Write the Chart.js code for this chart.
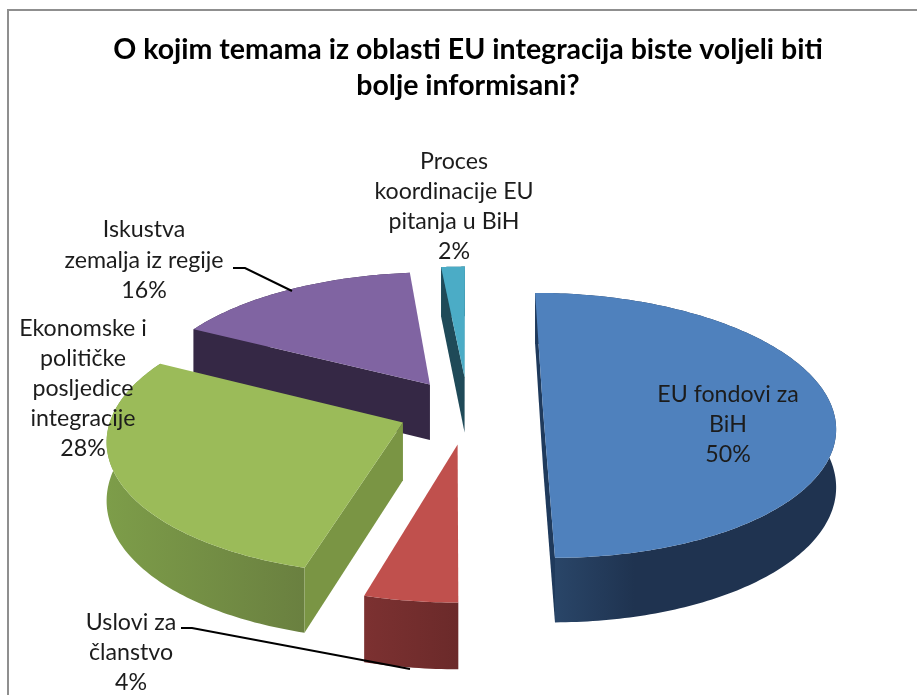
<!DOCTYPE html>
<html><head><meta charset="utf-8">
<script src="https://cdn.jsdelivr.net/npm/chart.js@4"></script>
<style>
html,body{margin:0;padding:0;background:#fff;width:917px;height:695px;overflow:hidden}
#frame{position:absolute;left:7px;top:9px;width:910px;height:686px;border-left:2px solid #8f8f8f;border-top:2px solid #8f8f8f;box-sizing:border-box}
#c{position:absolute;left:0;top:0}
</style></head><body>
<div id="frame"></div>
<canvas id="c" width="917" height="695"></canvas>
<script>
const categories = ['EU fondovi za BiH','Uslovi za članstvo','Ekonomske i političke posljedice integracije','Iskustva zemalja iz regije','Proces koordinacije EU pitanja u BiH'];
const values = [49.9,4.49,28.31,15.8,1.5];
const titleLines = ['O kojim temama iz oblasti EU integracija biste voljeli biti','bolje informisani?'];
const topColors = ['#4f81bd','#c0504d','#9bbb59','#8064a2','#4bacc6'];
const labelLines = [['EU fondovi za','BiH'],['Uslovi za','članstvo'],['Ekonomske i','političke','posljedice','integracije'],['Iskustva','zemalja iz regije'],['Proces','koordinacije EU','pitanja u BiH']];
const explode = [300,300,280,280,300];

// layout / style constants
const labelPos = [[728,395,30],[131,623,30],[83,329,30],[144,230,30.5],[454,162,30]];
const leaders = [null,[[181,628],[192,628],[410,669]],null,[[233,268],[245,268],[292,291]],null];
const wallRadial = ['#1f3a5c','#6b2a2a','#7a9544','#352845','#1f4a58'];
const wallArc = [['#2c4a6e','#1f3350',0.33],['#6b2a2a','#7c3131',1],['#6a8040','#7d9d49',1],['#352845','#352845',1],['#2a6a7c','#2a6a7c',1]];
const drawOrder = [3,4,0,2,1];
const S = 0.4507, P = 0.000403, D = 57;
const FONT = 'Lato, Carlito, sans-serif';

function project(cx,cy,u,v,z){
  const k = 1/(1-v*P);
  return [cx+u*k, cy+v*S*k+z*D*k];
}
function poly(ctx,pts,color){
  ctx.beginPath();pts.forEach((p,i)=>i?ctx.lineTo(p[0],p[1]):ctx.moveTo(p[0],p[1]));ctx.closePath();
  ctx.fillStyle=color;ctx.fill();
}
const pie3d = {
  id:'pie3d',
  beforeDatasetsDraw(chart){
    const ctx=chart.ctx, arcs=chart.getDatasetMeta(0).data;
    drawOrder.forEach(i=>{
      const a=arcs[i], {x,y,startAngle:s,endAngle:e,outerRadius:R}=a.getProps(['x','y','startAngle','endAngle','outerRadius'],true);
      const off=a.options.offset/4, mid=(s+e)/2, ou=Math.cos(mid)*off, ov=Math.sin(mid)*off;
      const pt=(r,ang,z)=>project(x,y,ou+Math.cos(ang)*r,ov+Math.sin(ang)*r,z);
      const n=Math.max(16,Math.ceil((e-s)*60));
      const rim0=[],rim1=[];
      for(let j=0;j<=n;j++){const t=s+(e-s)*j/n;rim0.push(pt(R,t,0));rim1.push(pt(R,t,1));}
      const [c0,c1,hold]=wallArc[i];
      const x0=rim0[0][0], xs=rim0.map(p=>p[0]);
      // gradient runs from the slice's lighter/front end across its full width
      const xA=i===0?Math.min(...xs):x0;
      const xFar=xs.reduce((m,v)=>Math.abs(v-xA)>Math.abs(m-xA)?v:m,xA);
      const g=ctx.createLinearGradient(xA,0,xFar,0);
      g.addColorStop(0,c0);g.addColorStop(hold,c1);g.addColorStop(1,c1);
      poly(ctx,rim0.concat(rim1.slice().reverse()),g);
      const m=pt(R/2,mid,0);
      [s,e].forEach(w=>{
        const p0=pt(0,w,0),p1=pt(R,w,0);
        // a radial wall shows only when the slice's top lies above it on screen
        const cross=(p1[0]-p0[0])*(m[1]-p0[1])-(p1[1]-p0[1])*(m[0]-p0[0]);
        const above=(p1[0]>=p0[0])?cross<0:cross>0;
        if(above) poly(ctx,[p0,p1,pt(R,w,1),pt(0,w,1)],wallRadial[i]);
      });
      poly(ctx,[pt(0,s,0)].concat(rim0),a.options.backgroundColor);
    });
    return false;
  },
  afterDraw(chart){
    const ctx=chart.ctx;
    ctx.save();
    ctx.strokeStyle='#000';ctx.lineWidth=2;
    leaders.forEach(l=>{ if(!l) return; ctx.beginPath(); l.forEach((p,i)=>i?ctx.lineTo(p[0],p[1]):ctx.moveTo(p[0],p[1])); ctx.stroke(); });
    ctx.fillStyle='#1c1c1c';ctx.font='23.2px '+FONT;ctx.textAlign='center';ctx.textBaseline='middle';
    categories.forEach((c,i)=>{
      const [lx,ly,lh]=labelPos[i];
      const lines=labelLines[i].concat([Math.round(values[i])+'%']);
      lines.forEach((t,j)=>ctx.fillText(t,lx,ly+j*lh));
    });
    ctx.restore();
  }
};
new Chart(document.getElementById('c'),{
  type:'pie',
  data:{labels:categories,datasets:[{data:values,backgroundColor:topColors,borderWidth:0,offset:explode}]},
  options:{
    responsive:false,animation:false,radius:290,rotation:0,
    layout:{padding:{left:19}},
    plugins:{
      legend:{display:false},tooltip:{enabled:false},
      title:{display:true,fullSize:false,text:titleLines,color:'#000',font:{family:FONT,size:28.5,weight:'bold',lineHeight:1.263},padding:{top:32,bottom:21}}
    }
  },
  plugins:[pie3d]
});
</script>
</body></html>
